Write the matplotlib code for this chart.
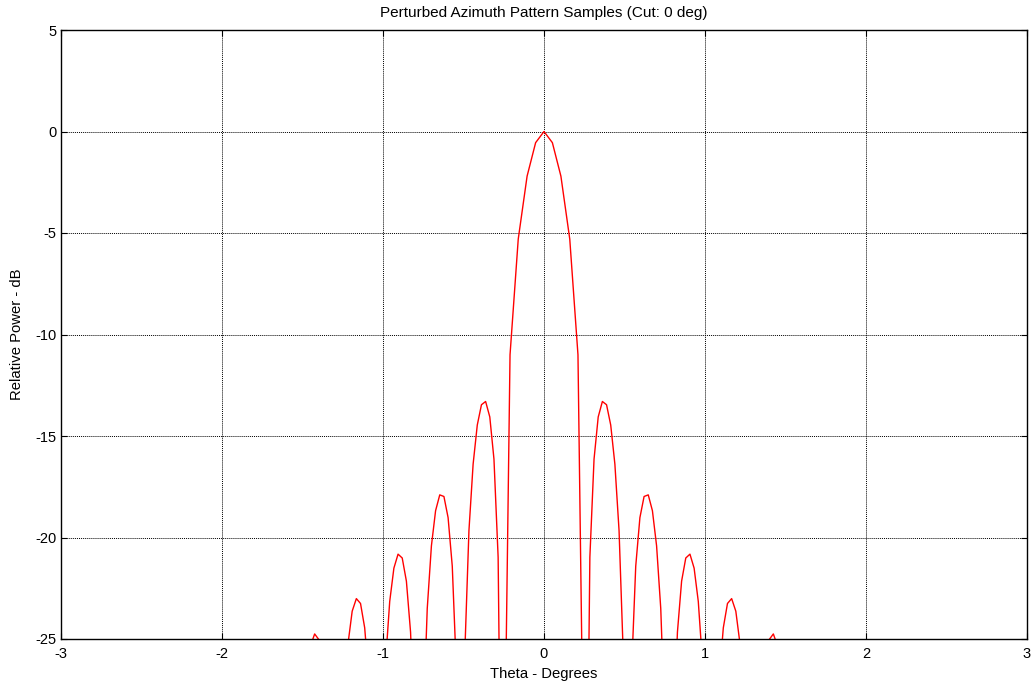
import matplotlib
matplotlib.use("Agg")
import matplotlib.pyplot as plt

# Sample angles (deg, theta >= 0 side) and relative power (dB)
theta_pos = [0.0, 0.052, 0.105, 0.160, 0.211,
             0.2590, 0.2849, 0.3108, 0.3367, 0.3626, 0.3885, 0.4144, 0.4403, 0.4662, 0.4921,
             0.5180, 0.5439, 0.5698, 0.5957, 0.6216, 0.6475, 0.6734, 0.6993, 0.7252, 0.7511,
             0.7770, 0.8029, 0.8288, 0.8547, 0.8806, 0.9065, 0.9324, 0.9583, 0.9842, 1.0101,
             1.0360, 1.0619, 1.0878, 1.1137, 1.1396, 1.1655, 1.1914, 1.2173, 1.2432, 1.2691,
             1.2950, 1.3209, 1.3468, 1.3727, 1.3986, 1.4245, 1.4504, 1.4763, 1.5022]
power_pos = [0.0, -0.55, -2.2, -5.3, -11.0,
             -40.0, -20.97, -16.14, -14.06, -13.30, -13.46, -14.46, -16.39, -19.66, -25.72,
             -42.0, -26.59, -21.41, -19.02, -17.98, -17.90, -18.68, -20.41, -23.50, -29.39,
             -45.0, -29.97, -24.66, -22.15, -21.01, -20.82, -21.51, -23.15, -26.15, -31.96,
             -46.0, -32.40, -27.02, -24.45, -23.25, -23.01, -23.63, -25.23, -28.18, -33.95,
             -48.0, -34.29, -28.88, -26.27, -25.03, -24.75, -25.34, -26.90, -29.83]

theta = [-t for t in theta_pos[:0:-1]] + theta_pos
power = power_pos[:0:-1] + power_pos

x_ticks = [-3, -2, -1, 0, 1, 2, 3]
y_ticks = [-25, -20, -15, -10, -5, 0, 5]

plt.rcParams['font.family'] = ['Liberation Sans', 'DejaVu Sans']

fig = plt.figure(figsize=(10.32, 6.84), dpi=100)
ax = fig.add_axes([61/1032, 1 - 639/684, (1027-61)/1032, (639-30)/684])

ax.plot(theta, power, color='#ff0000', linewidth=1.0, clip_on=True)

ax.set_xlim(-3, 3)
ax.set_ylim(-25, 5)
ax.set_xticks(x_ticks)
ax.set_yticks(y_ticks)
ax.set_xticklabels([str(v) for v in x_ticks])
ax.set_yticklabels([str(v) for v in y_ticks])
ax.grid(True, color='black', linestyle=(0, (1, 1)), linewidth=0.7)
ax.set_axisbelow(True)
ax.tick_params(direction='in', length=4, width=0.8, labelsize=10.5, pad=3,
               top=True, right=True, colors='black')
ax.tick_params(axis='x', pad=6)
for s in ax.spines.values():
    s.set_linewidth(1.0)
    s.set_color('black')

ax.set_title('Perturbed Azimuth Pattern Samples (Cut: 0 deg)', fontsize=11, pad=9)
ax.set_xlabel('Theta - Degrees', fontsize=10.7, labelpad=4)
ax.set_ylabel('Relative Power - dB', fontsize=10.7, labelpad=8)

fig.savefig('out.png', dpi=100)
